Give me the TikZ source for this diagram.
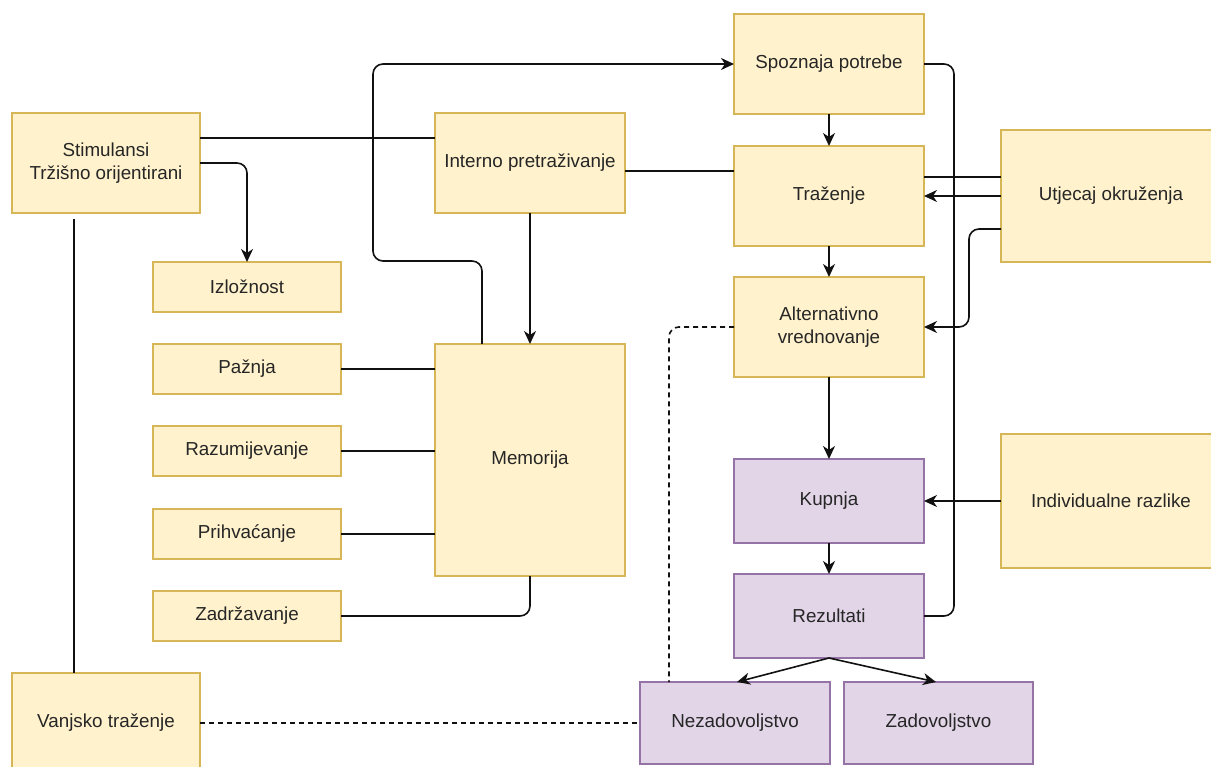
\documentclass[tikz,border=0pt]{standalone}
\usepackage{fontspec}
\setmainfont{Liberation Sans}
\usetikzlibrary{arrows.meta}
\definecolor{yfill}{HTML}{FFF2CC}
\definecolor{ydraw}{HTML}{D6B656}
\definecolor{pfill}{HTML}{E1D5E7}
\definecolor{pdraw}{HTML}{9673A6}
\definecolor{txt}{HTML}{262626}
\definecolor{ln}{HTML}{111111}
\tikzset{
  box/.style={rectangle, inner sep=0pt, outer sep=0pt, line width=1.3pt, align=center,
    text=txt, font=\fontsize{18.8}{22.5}\selectfont},
  ybox/.style={box, fill=yfill, draw=ydraw},
  pbox/.style={box, fill=pfill, draw=pdraw},
  conn/.style={draw=ln, line width=1.6pt, rounded corners=10pt},
  arr/.style={conn, -{Stealth[length=13pt,width=12pt,inset=4pt]}},
  dsh/.style={conn, dash pattern=on 5pt off 4pt}
}
\begin{document}
\begin{tikzpicture}[x=1pt,y=-1pt]
\useasboundingbox (0,0) rectangle (1211,767);
\clip (0,0) rectangle (1211,767);
\fill[white] (0,0) rectangle (1211,767);
% nodes
\node[ybox, minimum width=188pt, minimum height=100pt] (stim) at (106,163) {Stimulansi\\Tržišno orijentirani};
\node[ybox, minimum width=188pt, minimum height=50pt] (izl) at (247,287) {Izložnost};
\node[ybox, minimum width=188pt, minimum height=50pt] (paz) at (247,369) {Pažnja};
\node[ybox, minimum width=188pt, minimum height=50pt] (raz) at (247,451) {Razumijevanje};
\node[ybox, minimum width=188pt, minimum height=50pt] (pri) at (247,534) {Prihvaćanje};
\node[ybox, minimum width=188pt, minimum height=50pt] (zad) at (247,616) {Zadržavanje};
\node[ybox, minimum width=188pt, minimum height=100pt] (vanj) at (106,723) {Vanjsko traženje};
\node[ybox, minimum width=190pt, minimum height=100pt] (int) at (530,163) {Interno pretraživanje};
\node[ybox, minimum width=190pt, minimum height=232pt] (mem) at (530,460) {Memorija};
\node[ybox, minimum width=190pt, minimum height=100pt] (spoz) at (829,64) {Spoznaja potrebe};
\node[ybox, minimum width=190pt, minimum height=100pt] (traz) at (829,196) {Traženje};
\node[ybox, minimum width=190pt, minimum height=100pt] (alt) at (829,327) {Alternativno\\vrednovanje};
\node[pbox, minimum width=190pt, minimum height=84pt] (kup) at (829,501) {Kupnja};
\node[pbox, minimum width=190pt, minimum height=84pt] (rez) at (829,616) {Rezultati};
\node[pbox, minimum width=190pt, minimum height=82pt] (nez) at (735,723) {Nezadovoljstvo};
\node[pbox, minimum width=189pt, minimum height=82pt] (zado) at (938.5,723) {Zadovoljstvo};
\node[ybox, minimum width=220pt, minimum height=132pt] (utj) at (1111,196) {Utjecaj okruženja};
\node[ybox, minimum width=220pt, minimum height=134pt] (ind) at (1111,501) {Individualne razlike};
% connectors
\draw[conn] ([yshift=25pt]stim.east) -- ([yshift=25pt]int.west);
\draw[arr] (stim.east) -| (izl.north);
\draw[conn] ([xshift=-32pt,yshift=-6pt]stim.south) -- ([xshift=-32pt]vanj.north);
\draw[arr] ([xshift=-48pt]mem.north) |- (373,261) |- (spoz.west);
\draw[arr] (int.south) -- (mem.north);
\draw[conn] ([yshift=-8pt]int.east) -- ([yshift=25pt]traz.west);
\draw[conn] (paz.east) -- (paz.east -| mem.west);
\draw[conn] (raz.east) -- (raz.east -| mem.west);
\draw[conn] (pri.east) -- (pri.east -| mem.west);
\draw[conn] (zad.east) -| (mem.south);
\draw[arr] (spoz.south) -- (traz.north);
\draw[arr] (traz.south) -- (alt.north);
\draw[arr] (alt.south) -- (kup.north);
\draw[arr] (kup.south) -- (rez.north);
\draw[arr, rounded corners=0pt] (rez.south) -- ([xshift=2pt]nez.north);
\draw[arr, rounded corners=0pt] (rez.south) -- ([xshift=-2.5pt]zado.north);
\draw[conn] ([yshift=19pt]utj.west) -- ([yshift=19pt]traz.east);
\draw[arr] (utj.west) -- (traz.east);
\draw[arr] ([yshift=-33pt]utj.west) -| ([xshift=45pt]alt.east) -- (alt.east);
\draw[arr] (ind.west) -- (kup.east);
\draw[conn] (rez.east) -| ([xshift=30pt]spoz.east) -- (spoz.east);
\draw[dsh] (alt.west) -| ([xshift=-66pt]nez.north);
\draw[dsh] (vanj.east) -- (nez.west);
\end{tikzpicture}
\end{document}
